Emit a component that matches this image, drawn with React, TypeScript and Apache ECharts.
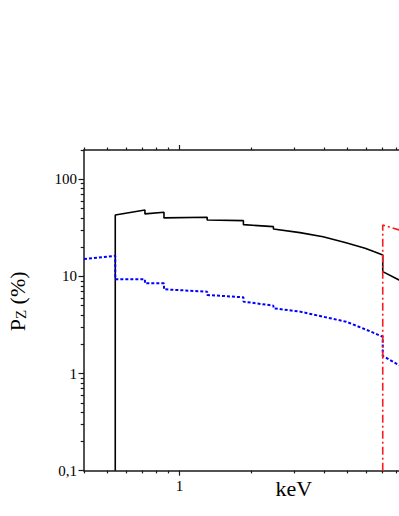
import React, { useEffect, useRef } from "react";
import * as echarts from "echarts";

// keV values and polarisation (%)
const blackKeV = [0.54, 0.54, 0.718, 0.718, 0.862, 0.862, 1.305, 1.305, 1.848, 1.848, 2.465, 2.465, 3.18, 3.97, 4.95, 5.94, 6.5, 7.04, 7.04, 8.23, 9.5];
const blackPz = [0.1, 42.8, 48.3, 44.0, 45.7, 40.0, 40.6, 38.1, 37.5, 34.1, 32.5, 30.8, 28.2, 25.6, 22.2, 19.5, 17.9, 16.6, 11.2, 9.2, 7.9];

const blueKeV = [0.4, 0.54, 0.54, 0.718, 0.718, 0.862, 0.862, 1.305, 1.305, 1.848, 1.848, 2.465, 2.465, 3.18, 3.97, 4.95, 5.94, 7.04, 7.04, 8.23, 9.5];
const bluePz = [15.1, 16.3, 9.34, 9.34, 8.49, 8.49, 7.37, 6.96, 6.44, 6.09, 5.5, 5.0, 4.7, 4.34, 3.85, 3.42, 2.86, 2.39, 1.52, 1.22, 1.0];

const redKeV = [7.04, 7.04, 8.23, 9.5];
const redPz = [0.1, 33.8, 30.1, 27.5];

const xMajorTicks = [1, 10];
const xMinorTicks = [0.4, 0.5, 0.6, 0.7, 0.8, 0.9, 2, 3, 4, 5, 6, 7, 8, 9, 20];
const xLabels = [1];
const yMajorTicks = [0.1, 1, 10, 100];
const yMinorTicks = [0.2, 0.3, 0.4, 0.5, 0.6, 0.7, 0.8, 0.9, 2, 3, 4, 5, 6, 7, 8, 9, 20, 30, 40, 50, 60, 70, 80, 90, 200];

const X_MIN = 0.4;
const X_MAX = 20;
const Y_MIN = 0.1;
const Y_MAX = 200;

const FONT = "'Liberation Serif', 'Times New Roman', serif";
const AX = "#1a1a1a";

const pairs = (xs: number[], ys: number[]) => xs.map((x, i) => [x, ys[i]]);

export default function App() {
  const ref = useRef<HTMLDivElement>(null);
  useEffect(() => {
    if (!ref.current) return;
    const chart = echarts.init(ref.current, undefined, { renderer: "svg" });
    const baseX = (position: string, ticks: number[], len: number, showLine: boolean, labels: boolean) => ({
      type: "log",
      logBase: 10,
      min: X_MIN,
      max: X_MAX,
      position,
      axisLine: { show: showLine, onZero: false, lineStyle: { color: AX, width: 1.5 } },
      axisTick: { show: true, length: len, customValues: ticks, lineStyle: { color: AX, width: 1.2 } },
      axisLabel: labels
        ? {
            show: true,
            customValues: xLabels,
            margin: 8,
            fontFamily: FONT,
            fontSize: 15,
            color: "#000",
            formatter: (v: number) => String(v).replace(".", ","),
          }
        : { show: false },
      splitLine: { show: false },
      minorTick: { show: false },
    });
    const baseY = (ticks: number[], len: number, showLine: boolean, labels: boolean) => ({
      type: "log",
      logBase: 10,
      min: Y_MIN,
      max: Y_MAX,
      position: "left",
      axisLine: { show: showLine, onZero: false, lineStyle: { color: AX, width: 1.5 } },
      axisTick: { show: true, length: len, customValues: ticks, lineStyle: { color: AX, width: 1.2 } },
      axisLabel: labels
        ? {
            show: true,
            customValues: yMajorTicks,
            margin: 7,
            fontFamily: FONT,
            fontSize: 15,
            color: "#000",
            formatter: (v: number) => String(v).replace(".", ","),
          }
        : { show: false },
      splitLine: { show: false },
      minorTick: { show: false },
    });

    const xMain: any = baseX("bottom", xMajorTicks, 5, true, true);
    xMain.name = "keV";
    xMain.nameLocation = "middle";
    xMain.nameGap = 7;
    xMain.nameMoveOverlap = false;
    xMain.nameTextStyle = { fontFamily: FONT, fontSize: 22, color: "#000", verticalAlign: "top", padding: [0, 0, 0, 12] };

    const yMain: any = baseY(yMajorTicks, 5.5, true, true);
    yMain.name = "{a|P}{b|Z}{a| (%)}";
    yMain.nameLocation = "middle";
    yMain.nameGap = 56;
    yMain.nameMoveOverlap = false;
    yMain.nameTextStyle = {
      color: "#000",
      padding: [0, 0, 0, 18],
      rich: {
        a: { fontFamily: FONT, fontSize: 22, lineHeight: 22, color: "#000", verticalAlign: "top" },
        b: { fontFamily: FONT, fontSize: 15, lineHeight: 15, color: "#000", verticalAlign: "bottom", padding: [11, 0, 0, 0] },
      },
    };

    chart.setOption({
      animation: false,
      backgroundColor: "#fff",
      textStyle: { fontFamily: FONT },
      grid: { left: 84, top: 150, right: 28.5, bottom: 45.3, containLabel: false, outerBoundsMode: "none" },
      xAxis: [
        xMain,
        baseX("bottom", xMinorTicks, 2.7, false, false),
        baseX("top", xMajorTicks, 5, true, false),
        baseX("top", xMinorTicks, 2.5, false, false),
      ],
      yAxis: [yMain, baseY(yMinorTicks, 3.3, false, false)],
      series: [
        {
          type: "line",
          xAxisIndex: 0,
          yAxisIndex: 0,
          data: pairs(blackKeV, blackPz),
          showSymbol: false,
          symbol: "none",
          lineStyle: { color: "#000", width: 1.6 },
        },
        {
          type: "line",
          xAxisIndex: 0,
          yAxisIndex: 0,
          data: pairs(blueKeV, bluePz),
          showSymbol: false,
          symbol: "none",
          lineStyle: { color: "#0000ff", width: 2, type: [3, 2] },
        },
        {
          type: "line",
          xAxisIndex: 0,
          yAxisIndex: 0,
          data: pairs(redKeV, redPz),
          showSymbol: false,
          symbol: "none",
          lineStyle: { color: "#ff1a1a", width: 1.6, type: [8, 3, 2, 3] },
        },
      ],
    });
    return () => chart.dispose();
  }, []);
  return (
    <div style={{ position: "fixed", left: 0, top: 0, width: 399, height: 516, overflow: "hidden", background: "#fff" }}>
      <div ref={ref} style={{ width: 520, height: 516 }} />
    </div>
  );
}
